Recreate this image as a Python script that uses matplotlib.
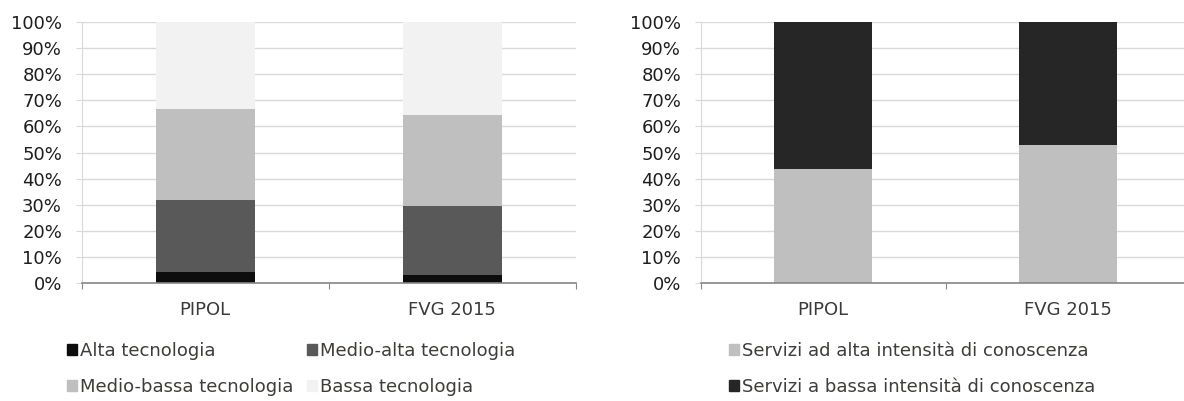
import matplotlib.pyplot as plt
from matplotlib.patches import Patch

categories = ["PIPOL", "FVG 2015"]

# Manifattura per intensità tecnologica (%)
manuf_labels = ["Alta tecnologia", "Medio-alta tecnologia",
                "Medio-bassa tecnologia", "Bassa tecnologia"]
alta = [4.1, 3.1]
medio_alta = [27.7, 26.3]
medio_bassa = [35.0, 35.0]
bassa = [33.2, 35.6]
manuf_colors = ["#0d0d0d", "#595959", "#bfbfbf", "#f2f2f2"]

# Servizi per intensità di conoscenza (%)
serv_labels = ["Servizi ad alta intensità di conoscenza",
               "Servizi a bassa intensità di conoscenza"]
serv_alta = [43.5, 52.8]
serv_bassa = [56.5, 47.2]
serv_colors = ["#bfbfbf", "#262626"]

plt.rcParams["font.family"] = ["DejaVu Sans"]
FS = 13
TEXT = "#1e1e1e"

W, H = 1184, 401
fig = plt.figure(figsize=(W / 100, H / 100), dpi=100)
ax1 = fig.add_axes([81.5 / W, 1 - 282.7 / H, 494.5 / W, 260.4 / H])
ax2 = fig.add_axes([700.6 / W, 1 - 282.7 / H, 490 / W, 260.4 / H])


def stacked(ax, series, colors):
    x = range(len(categories))
    bottom = [0] * len(categories)
    for vals, c in zip(series, colors):
        ax.bar(x, vals, width=0.4, bottom=bottom, color=c, zorder=3)
        bottom = [b + v for b, v in zip(bottom, vals)]


def style(ax):
    ax.set_xlim(-0.5, 1.5)
    ax.set_ylim(0, 100)
    ax.set_yticks(range(0, 101, 10))
    ax.set_yticklabels([f"{v}%" for v in range(0, 101, 10)], fontsize=FS, color=TEXT)
    ax.yaxis.grid(True, color="#d9d9d9", linewidth=1, zorder=0)
    ax.set_xticks([-0.5, 0.5, 1.5])
    ax.set_xticklabels([])
    ax.set_xticks([0, 1], minor=True)
    ax.set_xticklabels(categories, minor=True, fontsize=FS, color="#3a3a3a")
    ax.tick_params(axis="x", which="major", length=4, color="#868686", direction="out")
    ax.tick_params(axis="x", which="minor", length=0, pad=13)
    ax.tick_params(axis="y", length=4, color="#d9d9d9", pad=10)
    for s in ("top", "right"):
        ax.spines[s].set_visible(False)
    ax.spines["left"].set_color("#d9d9d9")
    ax.spines["bottom"].set_color("#868686")
    ax.spines["bottom"].set_linewidth(1.2)
    ax.spines["bottom"].set_zorder(4)


stacked(ax1, [alta, medio_alta, medio_bassa, bassa], manuf_colors)
stacked(ax2, [serv_alta, serv_bassa], serv_colors)
style(ax1)
style(ax2)

leg_kw = dict(frameon=False, fontsize=FS, handlelength=0.55, handleheight=0.55,
              handletextpad=0.17, labelspacing=1.0, borderaxespad=0,
              borderpad=0, labelcolor="#403c38")

# legend fills column by column, so order entries to read row by row
order = [0, 2, 1, 3]
h1 = [Patch(color=manuf_colors[i]) for i in order]
fig.legend(h1, [manuf_labels[i] for i in order], ncol=2, columnspacing=0.78,
           loc="upper left", bbox_to_anchor=(67 / W, 1 - 342 / H), **leg_kw)
h2 = [Patch(color=c) for c in serv_colors]
fig.legend(h2, serv_labels, ncol=1,
           loc="upper left", bbox_to_anchor=(729 / W, 1 - 342 / H), **leg_kw)

fig.savefig("out.png", dpi=100, facecolor="white")
